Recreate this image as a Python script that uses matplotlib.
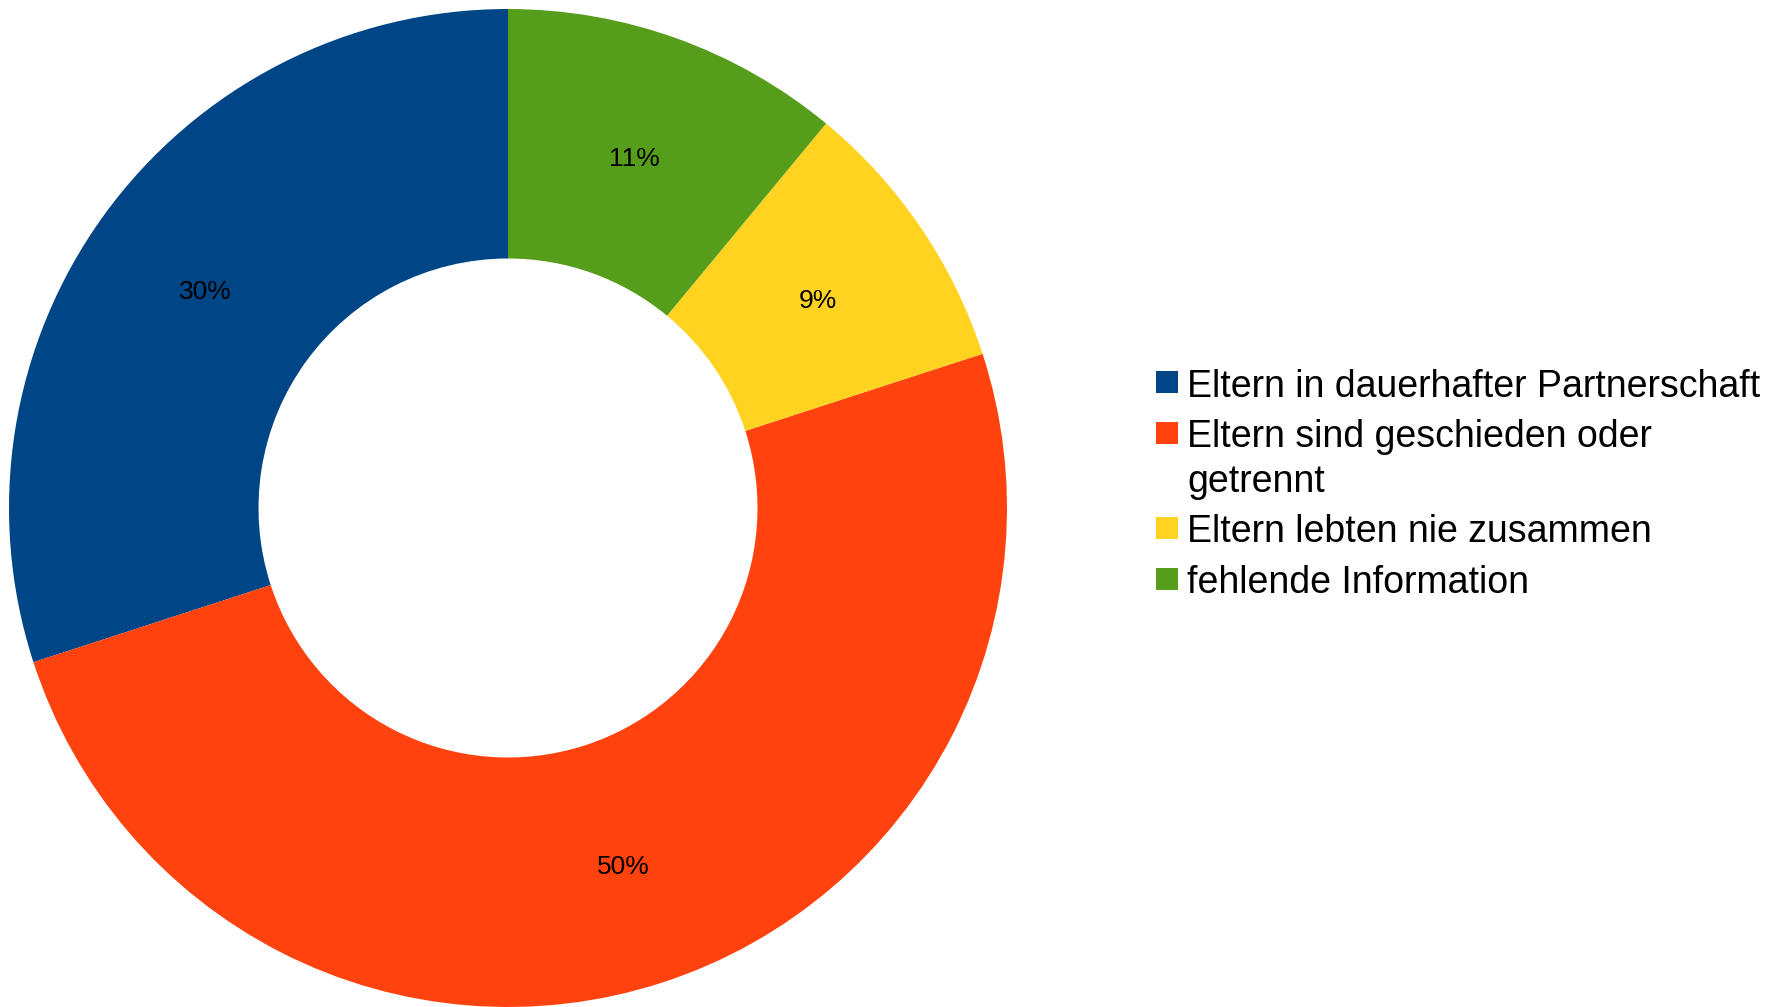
import matplotlib
matplotlib.use("Agg")
import matplotlib.pyplot as plt
from matplotlib.patches import Rectangle

plt.rcParams['font.family'] = ['Liberation Sans', 'DejaVu Sans']

categories = [
    "Eltern in dauerhafter Partnerschaft",
    "Eltern sind geschieden oder\ngetrennt",
    "Eltern lebten nie zusammen",
    "fehlende Information",
]
shares = [30, 50, 9, 11]
colors = ["#004586", "#ff420e", "#ffd320", "#579d1c"]

W, H = 1782, 1007
fig = plt.figure(figsize=(W / 100, H / 100), dpi=100)

# donut: centre and radius in pixels
cx, cy, r = 508, 508, 499
ax = fig.add_axes([(cx - r) / W, (H - cy - r) / H, 2 * r / W, 2 * r / H])
wedges, texts, autotexts = ax.pie(
    shares, colors=colors, startangle=90, counterclock=True, radius=1.0,
    autopct=lambda p: f"{p:.0f}%", pctdistance=0.75,
    wedgeprops=dict(width=0.5, linewidth=0),
    textprops=dict(fontsize=19, color="black"),
)
for t in autotexts:
    x, y = t.get_position()
    t.set_position((x, y - 0.007))
ax.set_xlim(-1, 1)
ax.set_ylim(-1, 1)
ax.set_aspect("equal")
ax.axis("off")


def fx(px):
    return px / W


def fy(py):
    return (H - py) / H


# legend drawn with the marker square aligned to the first text line
box_x, box_size = 1156, 22
text_x = 1187
line_step, entry_step = 44.4, 50.6
baseline = 396.7
for label, color in zip(categories, colors):
    fig.add_artist(Rectangle((fx(box_x), fy(baseline - 3.4)),
                             box_size / W, box_size / H,
                             transform=fig.transFigure, facecolor=color,
                             edgecolor="none"))
    lines = label.split("\n")
    for k, line in enumerate(lines):
        fig.text(fx(text_x), fy(baseline + k * line_step), line,
                 fontsize=27, va="baseline", ha="left", color="black")
    baseline += (len(lines) - 1) * line_step + entry_step

fig.savefig("out.png", dpi=100)
